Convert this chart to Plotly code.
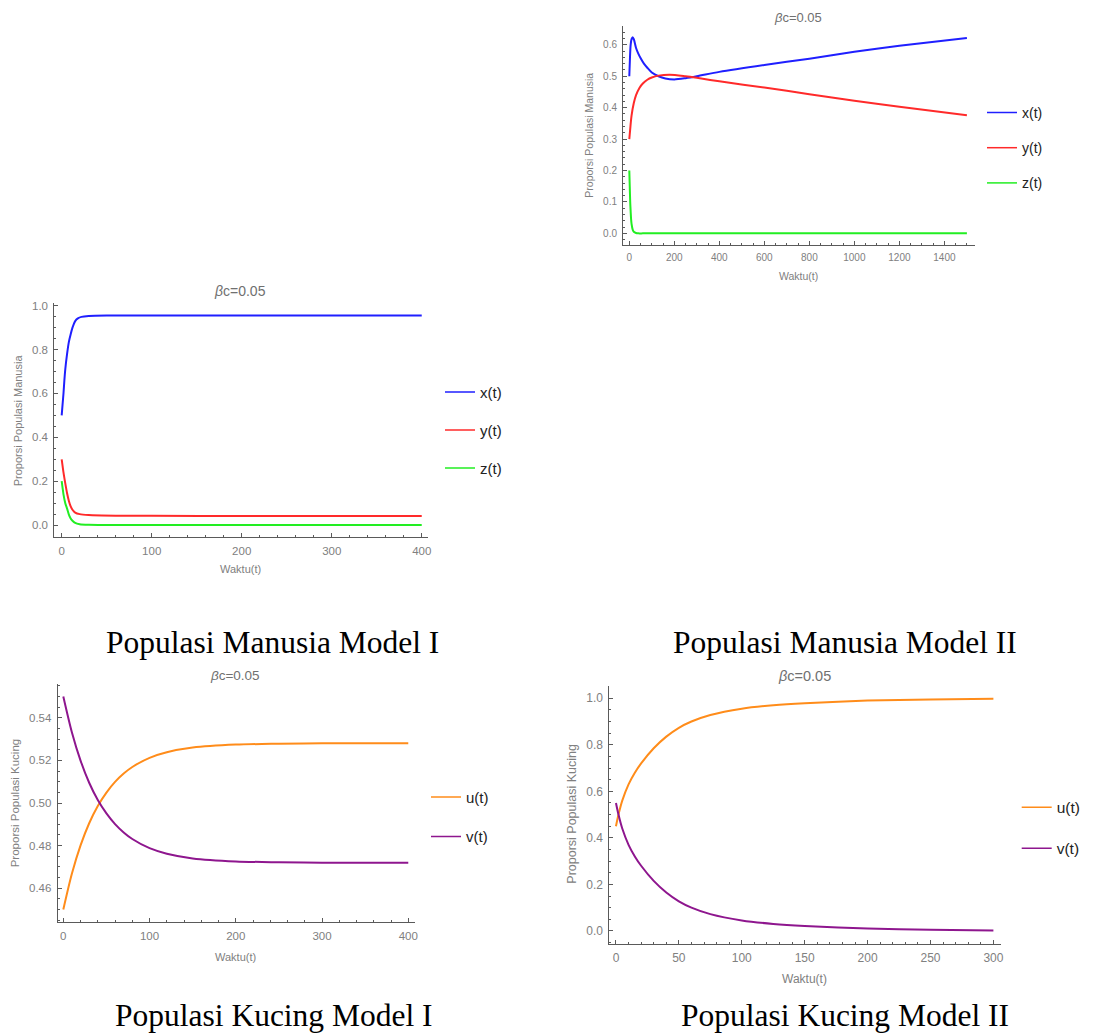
import plotly.graph_objects as go

W, H = 1114, 1034

# ---------------- DATA ----------------
# Populasi Manusia Model II (top right)
t_m2 = [0, 3, 6, 10, 15, 20, 30, 40, 50, 65, 80, 100, 130, 160, 200, 250, 300, 400, 600, 800, 1000, 1200, 1500]
x_m2 = [0.5, 0.56, 0.6, 0.618, 0.624, 0.618, 0.59, 0.572, 0.558, 0.54, 0.527, 0.512, 0.5, 0.493, 0.49, 0.494, 0.5, 0.514, 0.536, 0.556, 0.578, 0.597, 0.622]
t_m2y = [0, 5, 10, 20, 30, 45, 60, 80, 100, 130, 180, 250, 300, 400, 600, 800, 1000, 1200, 1500]
y_m2 = [0.3, 0.34, 0.375, 0.415, 0.44, 0.463, 0.477, 0.489, 0.496, 0.502, 0.505, 0.5, 0.495, 0.484, 0.464, 0.443, 0.422, 0.403, 0.376]
t_m2z = [0, 2, 4, 6, 8, 10, 15, 20, 30, 40, 60, 100, 300, 600, 900, 1200, 1500]
z_m2 = [0.2, 0.15, 0.1, 0.07, 0.045, 0.03, 0.012, 0.005, 0.001, 0.0, 0.0, 0.0, 0.0, 0.0, 0.0, 0.0, 0.0]

# Populasi Manusia Model I (middle left)
t_m1x = [0, 1, 2, 3, 4, 6, 8, 10, 12, 15, 18, 22, 30, 50, 100, 200, 300, 400]
x_m1 = [0.5, 0.55, 0.6, 0.66, 0.71, 0.78, 0.835, 0.87, 0.9, 0.93, 0.942, 0.949, 0.953, 0.955, 0.955, 0.955, 0.955, 0.955]
t_m1y = [0, 1, 2, 4, 6, 8, 10, 12, 15, 20, 30, 60, 100, 200, 300, 400]
y_m1 = [0.3, 0.27, 0.24, 0.19, 0.145, 0.11, 0.085, 0.07, 0.057, 0.05, 0.046, 0.043, 0.042, 0.041, 0.041, 0.041]
t_m1z = [0, 1, 2, 4, 6, 8, 10, 12, 15, 20, 30, 50, 100, 200, 300, 400]
z_m1 = [0.2, 0.17, 0.14, 0.1, 0.075, 0.048, 0.03, 0.02, 0.01, 0.004, 0.001, 0.0, 0.0, 0.0, 0.0, 0.0]

# Populasi Kucing Model I (bottom left)
t_k1 = [0, 10, 20, 30, 40, 50, 60, 70, 80, 100, 120, 150, 200, 250, 300, 400]
u_k1 = [0.45, 0.4669, 0.4801, 0.4905, 0.4986, 0.5049, 0.5099, 0.5138, 0.5169, 0.5212, 0.5238, 0.526, 0.5274, 0.5278, 0.528, 0.528]
v_k1 = [0.55, 0.5331, 0.5199, 0.5095, 0.5014, 0.4951, 0.4901, 0.4862, 0.4831, 0.4788, 0.4762, 0.474, 0.4726, 0.4722, 0.472, 0.472]

# Populasi Kucing Model II (bottom right)
t_k2 = [0, 2, 5, 10, 15, 20, 30, 40, 50, 60, 75, 100, 125, 150, 200, 250, 300]
u_k2 = [0.45, 0.5, 0.56, 0.63, 0.68, 0.72, 0.785, 0.835, 0.873, 0.9, 0.928, 0.955, 0.97, 0.979, 0.99, 0.995, 0.998]
v_k2 = [0.55, 0.5, 0.44, 0.37, 0.32, 0.28, 0.215, 0.165, 0.127, 0.1, 0.072, 0.045, 0.03, 0.021, 0.01, 0.005, 0.002]

title_text = "<i>β</i>c=0.05"
xlab = "Waktu(t)"
ylab_m = "Proporsi Populasi Manusia"
ylab_k = "Proporsi Populasi Kucing"
captions = ["Populasi Manusia Model I", "Populasi Manusia Model II",
            "Populasi Kucing Model I", "Populasi Kucing Model II"]

BLUE, RED, GREEN = "#1f1fff", "#ff2a2a", "#22ee22"
ORANGE, PURPLE = "#ff8c1a", "#8e168e"

# ---------------- LAYOUT HELPERS ----------------
def PX(px):
    return px / W

def PY(py):
    return 1 - py / H

FONT = "Liberation Sans, Arial, sans-serif"
AX = "#5a5a5a"
LAB = "#808080"

fig = go.Figure()

def add_line(x, y, color, xa, ya):
    fig.add_trace(go.Scatter(x=x, y=y, mode="lines",
                             line=dict(color=color, width=2, shape="spline", smoothing=0.8),
                             xaxis=xa, yaxis=ya, showlegend=False, hoverinfo="skip"))

def add_proxy(name, color, xa, ya, leg):
    fig.add_trace(go.Scatter(x=[None], y=[None], mode="lines", name=name,
                             line=dict(color=color, width=1.5), xaxis=xa, yaxis=ya,
                             legend=leg, legendgroup=leg + name, showlegend=True))

# panel A: Manusia Model II
add_line(t_m2, x_m2, BLUE, "x", "y")
add_line(t_m2y, y_m2, RED, "x", "y")
add_line(t_m2z, z_m2, GREEN, "x", "y")
# panel B: Manusia Model I
add_line(t_m1x, x_m1, BLUE, "x2", "y2")
add_line(t_m1y, y_m1, RED, "x2", "y2")
add_line(t_m1z, z_m1, GREEN, "x2", "y2")
# panel C: Kucing Model I
add_line(t_k1, u_k1, ORANGE, "x3", "y3")
add_line(t_k1, v_k1, PURPLE, "x3", "y3")
# panel D: Kucing Model II
add_line(t_k2, u_k2, ORANGE, "x4", "y4")
add_line(t_k2, v_k2, PURPLE, "x4", "y4")

for nm, c in [("x(t)", BLUE), ("y(t)", RED), ("z(t)", GREEN)]:
    add_proxy(nm, c, "x", "y", "legend")
for nm, c in [("x(t)", BLUE), ("y(t)", RED), ("z(t)", GREEN)]:
    add_proxy(nm, c, "x2", "y2", "legend2")
for nm, c in [("u(t)", ORANGE), ("v(t)", PURPLE)]:
    add_proxy(nm, c, "x3", "y3", "legend3")
for nm, c in [("u(t)", ORANGE), ("v(t)", PURPLE)]:
    add_proxy(nm, c, "x4", "y4", "legend4")

def axis(dom, rng, dtick, mdtick, fmt, fsize, anchor):
    return dict(domain=dom, range=rng, dtick=dtick, tick0=0, tickformat=fmt,
                showline=True, linecolor=AX, linewidth=1, ticks="inside", ticklen=4,
                tickwidth=1, tickcolor=AX, showgrid=False, zeroline=False,
                tickfont=dict(family=FONT, size=fsize, color=LAB), anchor=anchor,
                automargin=False, ticklabelstandoff=3,
                minor=dict(ticks="inside", ticklen=2, tickcolor=AX, dtick=mdtick, tick0=0, showgrid=False))

panels = {
    # name: (xdom px, ydom px, xrange, yrange, xdt, xmdt, ydt, ymdt, yfmt, fsize)
    "1": ((623, 975), (26, 245), (-28, 1536), (-0.037, 0.66), 200, 50, 0.1, 0.02, ".1f", 10),
    "2": ((54.3, 428.3), (303.3, 536.7), (-8.2, 407.3), (-0.053, 1.011), 100, 20, 0.2, 0.05, ".1f", 11.5),
    "3": ((57.7, 415), (684.3, 921.7), (-6.5, 407.8), (0.4443, 0.5557), 100, 20, 0.02, 0.005, ".2f", 11.5),
    "4": ((609.3, 1000.7), (685.7, 943.7), (-5.3, 305.8), (-0.055, 1.054), 50, 10, 0.2, 0.05, ".1f", 12),
}

lay = {}
for k, (xd, yd, xr, yr, xdt, xmdt, ydt, ymdt, yfmt, fs) in panels.items():
    xs = "xaxis" if k == "1" else "xaxis" + k
    ys = "yaxis" if k == "1" else "yaxis" + k
    xn = "x" if k == "1" else "x" + k
    yn = "y" if k == "1" else "y" + k
    lay[xs] = axis([PX(xd[0]), PX(xd[1])], list(xr), xdt, xmdt, "d", fs, yn)
    lay[ys] = axis([PY(yd[1]), PY(yd[0])], list(yr), ydt, ymdt, yfmt, fs, xn)

annotations = []
def ann(text, x, y, size, color=LAB, family=FONT, angle=0):
    annotations.append(dict(text=text, x=PX(x), y=PY(y), xref="paper", yref="paper",
                            xanchor="center", yanchor="middle", showarrow=False,
                            textangle=angle, font=dict(family=family, size=size, color=color)))

# titles
ann(title_text, 798, 17.3, 13, "#707070")
ann(title_text, 240.3, 290.7, 14, "#707070")
ann(title_text, 234.7, 675, 13.5, "#707070")
ann(title_text, 804, 675.7, 14.5, "#707070")
# axis titles
ann(xlab, 798, 276, 10.5)
ann(ylab_m, 589, 135.7, 10.5, angle=-90)
ann(xlab, 240.7, 569, 11)
ann(ylab_m, 18.3, 420, 11, angle=-90)
ann(xlab, 235.7, 956.7, 11)
ann(ylab_k, 15, 803.3, 11.5, angle=-90)
ann(xlab, 804.3, 979.3, 12)
ann(ylab_k, 571.7, 814, 12.5, angle=-90)
# captions
SERIF = "Liberation Serif, Times New Roman, serif"
ann(captions[0], 272.5, 642, 31.5, "#000000", SERIF)
ann(captions[1], 845, 642, 31.5, "#000000", SERIF)
ann(captions[2], 273.5, 1015, 31.5, "#000000", SERIF)
ann(captions[3], 845, 1015, 31.5, "#000000", SERIF)

def legend(text_x, first_y, fsize, gap):
    return dict(x=PX(text_x - 40), y=PY(first_y - fsize * 0.65 - 5), xanchor="left", yanchor="top",
                font=dict(family=FONT, size=fsize, color="#222222"), bgcolor="rgba(0,0,0,0)",
                tracegroupgap=gap, itemwidth=30, borderwidth=0)

lay["legend"] = legend(1022, 111, 14, 14)
lay["legend2"] = legend(480, 390.5, 15, 15.5)
lay["legend3"] = legend(466, 795.5, 15, 17)
lay["legend4"] = legend(1056.7, 805.7, 15.5, 18)

fig.update_layout(width=W, height=H, margin=dict(l=0, r=0, t=0, b=0),
                  paper_bgcolor="white", plot_bgcolor="white",
                  annotations=annotations, **lay)

fig.write_html("out.html", config={"displayModeBar": False},
               post_script="document.body.style.margin='0';")
